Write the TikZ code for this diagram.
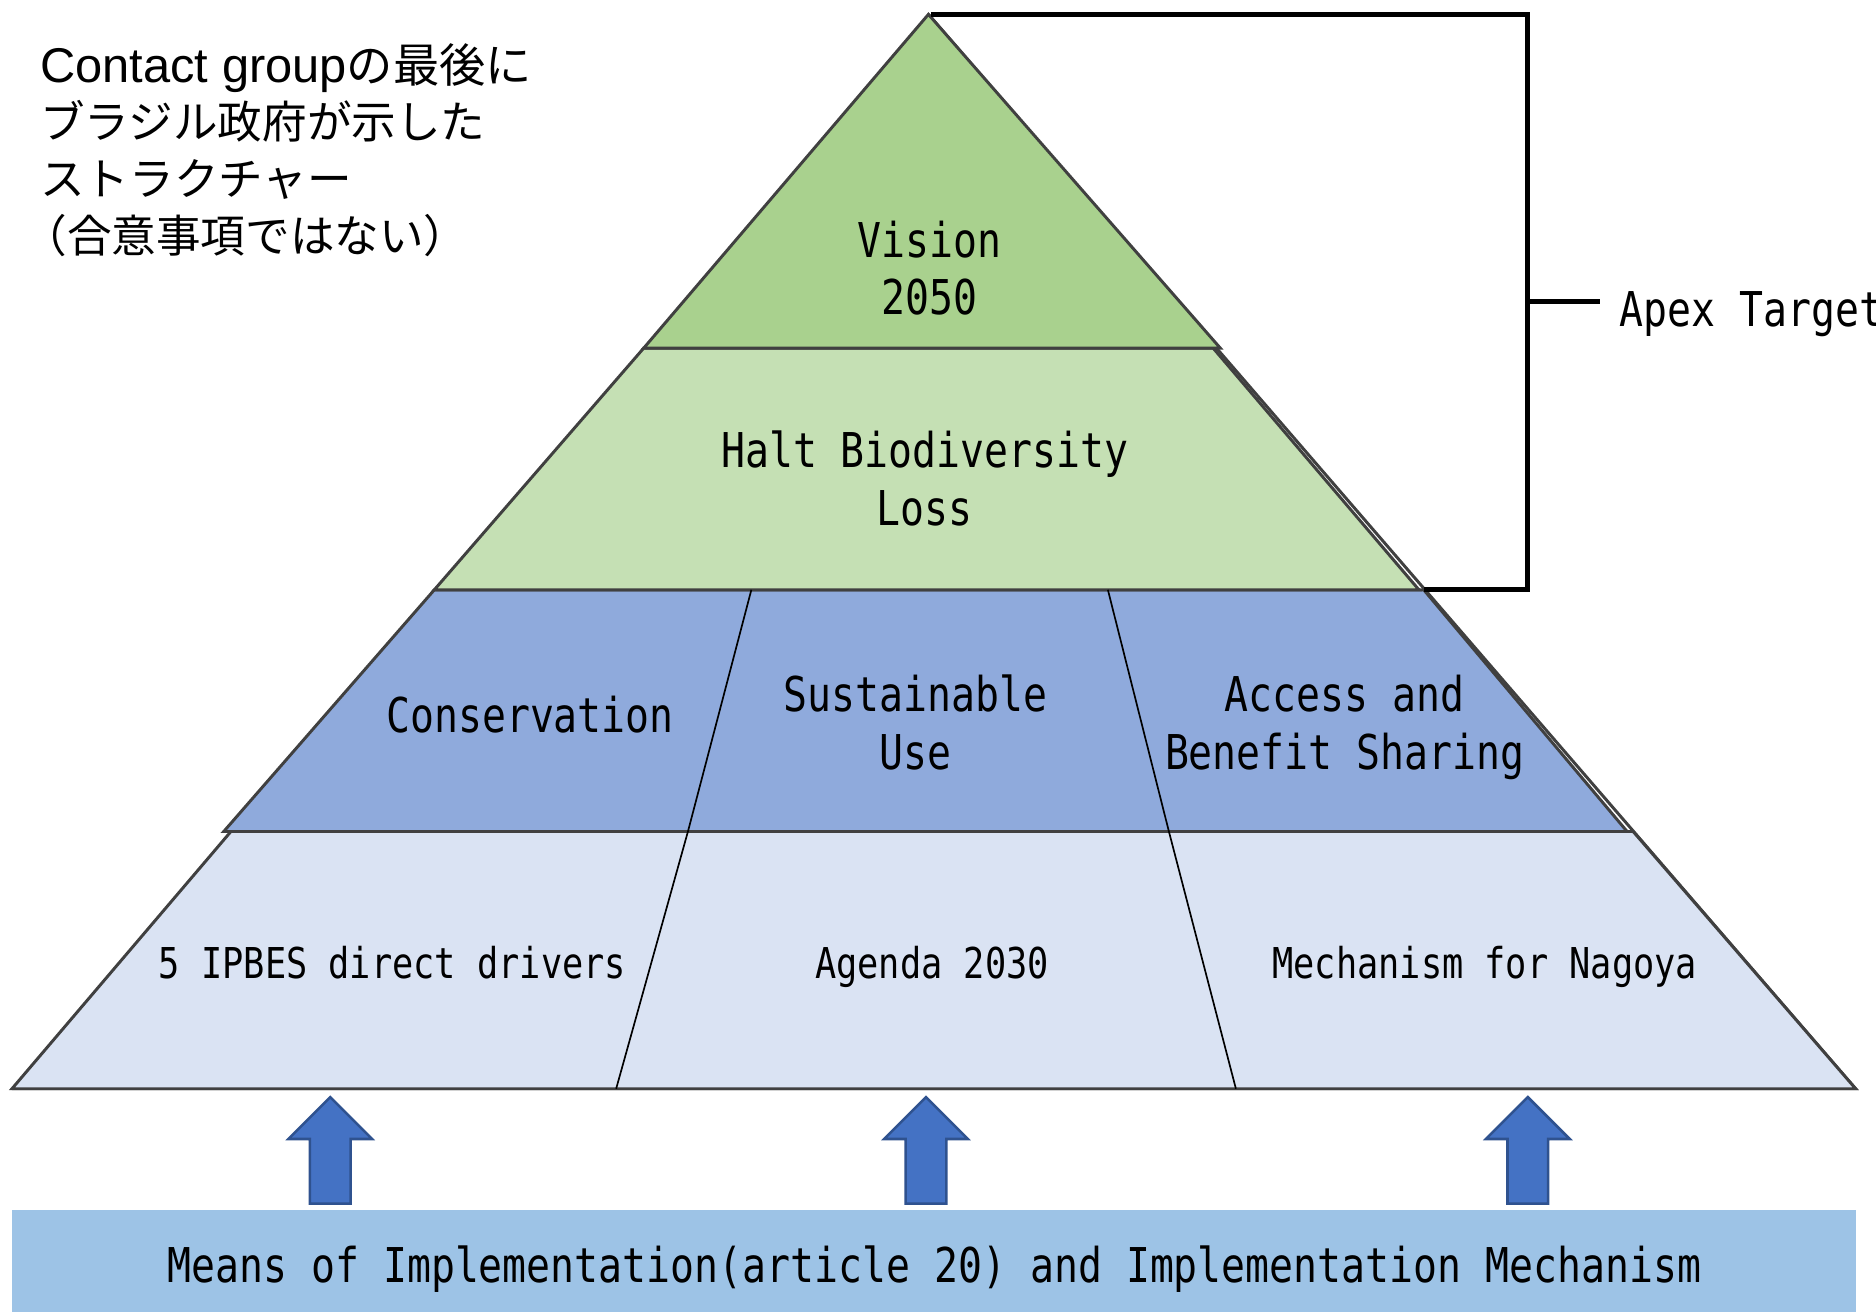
\documentclass[tikz,border=0pt]{standalone}
\usepackage{fontspec}
\usepackage{tikz}
\newfontfamily\gothic[FakeStretch=0.83]{DejaVu Sans Mono}
\newfontfamily\jpfont{Noto Sans CJK JP}
\newfontfamily\arialfont{Liberation Sans}
\definecolor{visiongreen}{HTML}{A9D18E}
\definecolor{haltgreen}{HTML}{C5E0B4}
\definecolor{pillarblue}{HTML}{8FAADC}
\definecolor{driverblue}{HTML}{DAE3F3}
\definecolor{meansblue}{HTML}{9DC3E6}
\definecolor{arrowblue}{HTML}{4472C4}
\definecolor{arrowedge}{HTML}{2F528F}
\definecolor{layeredge}{HTML}{404040}
\tikzset{
  layer/.style={draw=layeredge, line width=0.7pt},
  tierlabel/.style={font=\gothic\fontsize{11.4}{13.66}\selectfont, align=center, inner sep=0pt},
  drvlabel/.style={font=\gothic\fontsize{10.1}{12}\selectfont, inner sep=0pt, anchor=base},
  bracket/.style={line width=1.2pt}
}

\begin{document}
\begin{tikzpicture}[x=0.01cm, y=-0.01cm]
    \useasboundingbox (0,0) rectangle (1568,1097);

    % Outer outline of the pyramid
    \draw[layer] (776,12) -- (1551,910) -- (10,910);

    % Layers, bottom to top
    \draw[layer, fill=driverblue] (193,695) -- (1365,695) -- (1551,910) -- (10,910) -- cycle;
    \draw[layer, fill=pillarblue] (363,493) -- (1190,493) -- (1360,695) -- (187,695) -- cycle;
    \draw[layer, fill=haltgreen] (538,291) -- (1014,291) -- (1186,493) -- (363,493) -- cycle;
    \draw[layer, fill=visiongreen] (776,12) -- (1020,291) -- (538,291) -- cycle;

    % Dividers between the three pillars
    \draw[line width=0.4pt] (628,493) -- (575,695) -- (515,910);
    \draw[line width=0.4pt] (926,493) -- (977,695) -- (1033,910);

    % Labels inside the layers
    \node[tierlabel] (vision) at (777,224) {Vision\\2050};
    \node[tierlabel] (halt) at (773,400) {Halt Biodiversity\\Loss};
    \node[tierlabel, anchor=base] (conservation) at (443,612) {Conservation};
    \node[tierlabel] (sustainable) at (765,604) {Sustainable\\Use};
    \node[tierlabel] (abs) at (1124,608) {Access and\\Benefit Sharing};
    \node[drvlabel] (drivers) at (328,818) {5 IPBES direct drivers};
    \node[drvlabel] (agenda) at (779,818) {Agenda 2030};
    \node[drvlabel] (nagoya) at (1241,818) {Mechanism for Nagoya};

    % Bracket for the apex target
    \coordinate (tick) at (1277,252);
    \draw[bracket] (778,12) -| (1277,493) -- (1190,493);
    \draw[bracket] (tick) -- ++(60,0);
    \node[tierlabel, anchor=base west] (apex) at (1353,273) {Apex Target};

    % Means of implementation
    \fill[meansblue] (10,1011) rectangle (1551,1097);
    \node[tierlabel, anchor=base] (means) at (781,1072) {Means of Implementation(article 20) and Implementation Mechanism};
    \foreach \ax in {276,774,1277} {
        \draw[fill=arrowblue, draw=arrowedge, line width=0.6pt]
            (\ax-17,1006) -- (\ax-17,952) -- (\ax-35,952) -- (\ax,917)
            -- (\ax+35,952) -- (\ax+17,952) -- (\ax+17,1006) -- cycle;
    }

    % Note in the corner
    \node[anchor=base west, align=left, inner sep=0pt, font=\fontsize{10.6}{13.5}\selectfont] (note) at (33,211)
        {{\arialfont\fontsize{11.6}{13.5}\selectfont Contact group}{\jpfont\fontsize{11}{13.5}\selectfont の最後に}\\
         {\jpfont ブラジル政府が示した}\\
         {\jpfont ストラクチャー}\\
         {\jpfont\hspace{-0.4em}（合意事項ではない）}};
\end{tikzpicture}
\end{document}
